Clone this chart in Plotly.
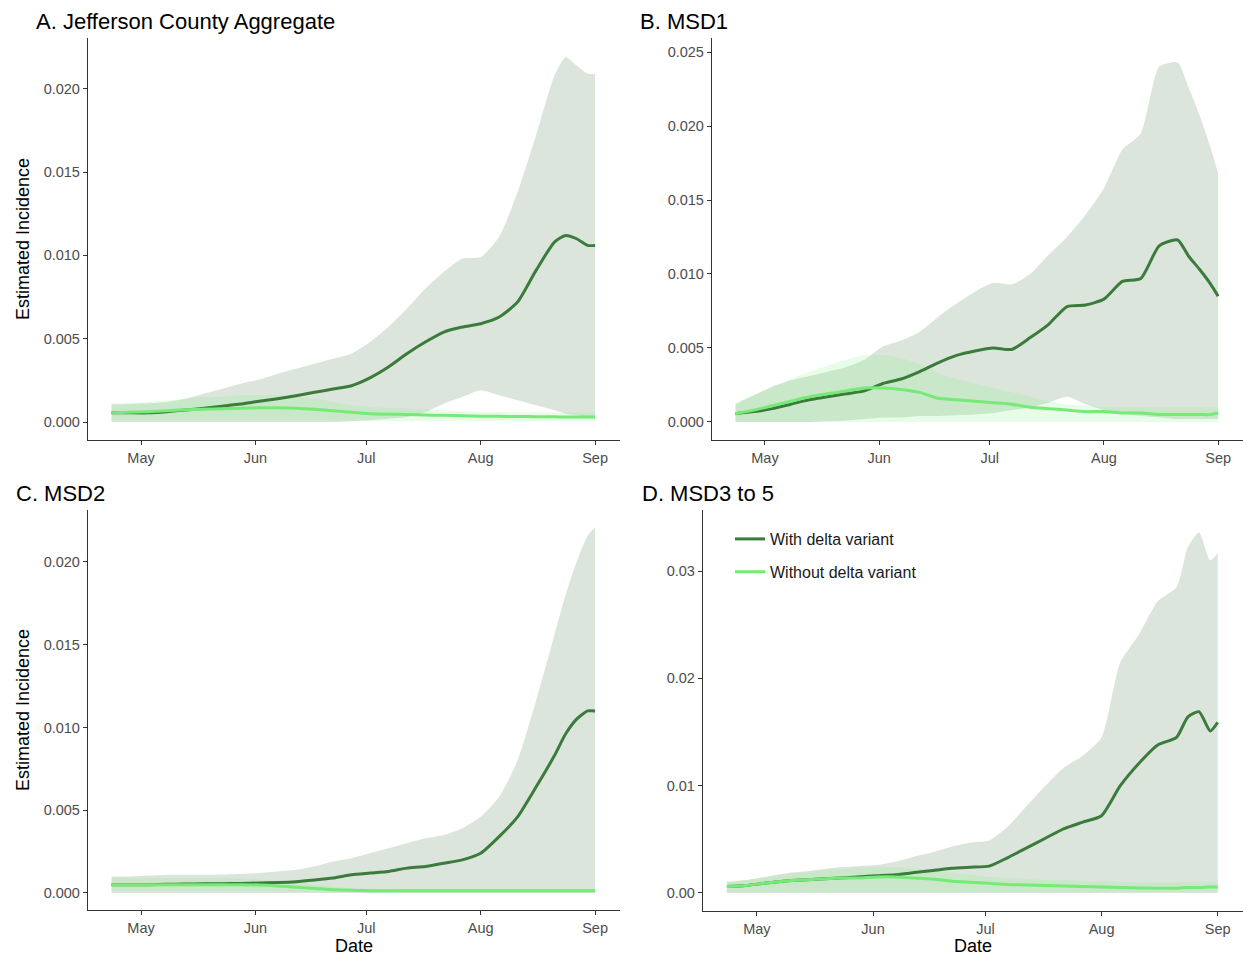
import plotly.graph_objects as go

# ---- shared time axis -------------------------------------------------------
dates = ["2021-04-23", "2021-04-28", "2021-05-03", "2021-05-08", "2021-05-13",
         "2021-05-18", "2021-05-23", "2021-05-28", "2021-06-02", "2021-06-07",
         "2021-06-12", "2021-06-17", "2021-06-22", "2021-06-27", "2021-07-02",
         "2021-07-07", "2021-07-12", "2021-07-17", "2021-07-22", "2021-07-27",
         "2021-08-01", "2021-08-06", "2021-08-11", "2021-08-16", "2021-08-21",
         "2021-08-24", "2021-08-27", "2021-08-30", "2021-09-01"]
month_ticks = ["2021-05-01", "2021-06-01", "2021-07-01", "2021-08-01", "2021-09-01"]
month_labels = ["May", "Jun", "Jul", "Aug", "Sep"]

# ---- A. Jefferson County Aggregate -----------------------------------------
a_with = [0.00056, 0.00055, 0.00055, 0.00062, 0.00072, 0.00082, 0.00095, 0.00108,
          0.00125, 0.00140, 0.00158, 0.00178, 0.00198, 0.00218, 0.00265, 0.0033,
          0.0041, 0.0048, 0.0054, 0.0057, 0.0059, 0.0063, 0.0072, 0.0091, 0.0108,
          0.0112, 0.0110, 0.0106, 0.0106]
a_with_hi = [0.00106, 0.00108, 0.00112, 0.0012, 0.0014, 0.0017, 0.0020, 0.0023,
             0.00255, 0.0029, 0.0032, 0.0035, 0.0038, 0.0041, 0.0048, 0.0057,
             0.0068, 0.0080, 0.0090, 0.0098, 0.0099, 0.0111, 0.0138, 0.0172,
             0.0208, 0.0219, 0.0214, 0.0209, 0.0209]
a_with_lo = [0.0, 0.0, 0.0, 0.0, 0.0, 0.0, 0.0, 0.0, 0.0, 0.0, 0.0, 0.0, 0.0,
             0.00005, 0.0001, 0.0002, 0.0003, 0.0006, 0.0011, 0.0015, 0.0019,
             0.0016, 0.0013, 0.0010, 0.0007, 0.0005, 0.0004, 0.0003, 0.0002]
a_without = [0.00055, 0.00058, 0.00062, 0.00068, 0.00073, 0.00077, 0.0008, 0.00083,
             0.00085, 0.00085, 0.00083, 0.00077, 0.00068, 0.00058, 0.0005, 0.00047,
             0.00045, 0.00042, 0.0004, 0.00037, 0.00035, 0.00034, 0.00033, 0.00032,
             0.00031, 0.0003, 0.0003, 0.0003, 0.0003]
a_without_hi = [0.0011, 0.00115, 0.0012, 0.0013, 0.0014, 0.0015, 0.0015, 0.0016,
                0.0016, 0.0016, 0.0015, 0.0014, 0.0012, 0.0010, 0.0009, 0.00085,
                0.0008, 0.00075, 0.0007, 0.00065, 0.0006, 0.0006, 0.00058, 0.00056,
                0.00055, 0.00055, 0.00055, 0.00055, 0.00055]
a_without_lo = [0.0001, 0.0001, 0.0001, 0.0001, 0.0001, 0.0001, 0.0001, 0.0001,
                0.0001, 0.0001, 0.0001, 0.0001, 0.00008, 0.00007, 0.00006, 0.00005,
                0.00005, 0.00005, 0.00005, 0.00005, 0.00005, 0.00005, 0.00005,
                0.00005, 0.00005, 0.00005, 0.00005, 0.00005, 0.00005]

# ---- B. MSD1 ---------------------------------------------------------------
b_with = [0.00056, 0.0007, 0.0009, 0.0012, 0.0015, 0.0017, 0.0019, 0.0021, 0.0026,
          0.0029, 0.0034, 0.0040, 0.0045, 0.0048, 0.0050, 0.0049, 0.0057, 0.0066,
          0.0078, 0.0079, 0.0083, 0.0095, 0.0097, 0.0119, 0.0123, 0.0112, 0.0103,
          0.0093, 0.0085]
b_with_hi = [0.0012, 0.0018, 0.0024, 0.0028, 0.0031, 0.0034, 0.0037, 0.0042, 0.0051,
             0.0055, 0.0061, 0.0071, 0.0080, 0.0088, 0.0094, 0.0093, 0.0100, 0.0113,
             0.0125, 0.0140, 0.0158, 0.0184, 0.0195, 0.0240, 0.0243, 0.0226, 0.0207,
             0.0185, 0.0168]
b_with_lo = [0.0, 0.0, 0.0, 0.0, 0.0, 0.00005, 0.0001, 0.0002, 0.0003, 0.0003,
             0.0004, 0.0004, 0.00045, 0.0005, 0.0006, 0.0008, 0.0010, 0.0013, 0.0017,
             0.0012, 0.0008, 0.0006, 0.0004, 0.0003, 0.0002, 0.0002, 0.0002, 0.0002,
             0.0002]
b_without = [0.00056, 0.0008, 0.0011, 0.0014, 0.0017, 0.0019, 0.0021, 0.0023, 0.0023,
             0.0022, 0.0020, 0.0016, 0.0015, 0.0014, 0.0013, 0.0012, 0.0010, 0.0009,
             0.0008, 0.0007, 0.0007, 0.0006, 0.0006, 0.0005, 0.0005, 0.0005, 0.0005,
             0.0005, 0.0006]
b_without_hi = [0.0013, 0.0018, 0.0023, 0.0029, 0.0034, 0.0038, 0.0042, 0.0045,
                0.0045, 0.0043, 0.0039, 0.0033, 0.0029, 0.0026, 0.0023, 0.0020,
                0.0017, 0.0014, 0.0012, 0.0011, 0.0010, 0.0010, 0.0010, 0.0010,
                0.0010, 0.0010, 0.0010, 0.0010, 0.0010]
b_without_lo = [0.0] * 29

# ---- C. MSD2 ---------------------------------------------------------------
c_with = [0.0005, 0.0005, 0.0005, 0.00052, 0.00054, 0.00055, 0.00056, 0.00057,
          0.0006, 0.00063, 0.00068, 0.00078, 0.0009, 0.0011, 0.0012, 0.0013, 0.0015,
          0.0016, 0.0018, 0.0020, 0.0024, 0.0034, 0.0046, 0.0064, 0.0083, 0.0096,
          0.0105, 0.0110, 0.0110]
c_with_hi = [0.0010, 0.0010, 0.00105, 0.0011, 0.0011, 0.0011, 0.00112, 0.00115,
             0.0012, 0.0013, 0.0014, 0.0016, 0.0019, 0.0021, 0.0024, 0.0027, 0.0030,
             0.0033, 0.0035, 0.0039, 0.0046, 0.0058, 0.0080, 0.0116, 0.0156, 0.0180,
             0.0200, 0.0216, 0.0221]
c_with_lo = [0.0] * 29
c_without = [0.0005, 0.0005, 0.0005, 0.0005, 0.0005, 0.0005, 0.0005, 0.0005,
             0.00048, 0.00042, 0.00035, 0.00027, 0.0002, 0.00016, 0.00014, 0.00013,
             0.00013, 0.00013, 0.00013, 0.00013, 0.00013, 0.00013, 0.00013, 0.00013,
             0.00013, 0.00013, 0.00013, 0.00013, 0.00013]
c_without_hi = [0.0009, 0.0009, 0.0009, 0.0009, 0.0009, 0.0009, 0.0009, 0.00088,
                0.00082, 0.00072, 0.0006, 0.00048, 0.00038, 0.0003, 0.00026, 0.00024,
                0.00023, 0.00022, 0.00022, 0.00022, 0.00022, 0.00022, 0.00022,
                0.00022, 0.00022, 0.00022, 0.00022, 0.00022, 0.00022]
c_without_lo = [0.0001, 0.0001, 0.0001, 0.0001, 0.0001, 0.0001, 0.0001, 0.0001,
                0.0001, 0.00009, 0.00008, 0.00007, 0.00006, 0.00005, 0.00005, 0.00005,
                0.00005, 0.00005, 0.00005, 0.00005, 0.00005, 0.00005, 0.00005,
                0.00005, 0.00005, 0.00005, 0.00005, 0.00005, 0.00005]

# ---- D. MSD3 to 5 ----------------------------------------------------------
d_with = [0.0006, 0.0007, 0.0009, 0.0011, 0.0012, 0.0013, 0.0014, 0.0015, 0.0016,
          0.0017, 0.0019, 0.0021, 0.0023, 0.0024, 0.0025, 0.0033, 0.0042, 0.0051,
          0.0060, 0.0066, 0.0072, 0.0100, 0.0121, 0.0138, 0.0145, 0.0164, 0.0169,
          0.0151, 0.0159]
d_with_hi = [0.0010, 0.0012, 0.0015, 0.0018, 0.0020, 0.0022, 0.0024, 0.0025, 0.0026,
             0.0029, 0.0034, 0.0038, 0.0043, 0.0047, 0.0049, 0.0062, 0.0081, 0.0100,
             0.0117, 0.0128, 0.0145, 0.0215, 0.0241, 0.0272, 0.0285, 0.0322, 0.0336,
             0.0310, 0.0317]
d_with_lo = [0.0] * 29
d_without = [0.0006, 0.0007, 0.0009, 0.0011, 0.0012, 0.0013, 0.0014, 0.0014, 0.0015,
             0.0015, 0.0014, 0.0013, 0.0011, 0.0010, 0.0009, 0.0008, 0.00075, 0.0007,
             0.00065, 0.0006, 0.00055, 0.0005, 0.00047, 0.00045, 0.00045, 0.0005,
             0.0005, 0.00055, 0.00056]
d_without_hi = [0.0011, 0.0012, 0.0014, 0.0017, 0.0019, 0.0021, 0.0022, 0.0023,
                0.0024, 0.0024, 0.0023, 0.0021, 0.0019, 0.0017, 0.0015, 0.0014,
                0.0013, 0.0012, 0.0012, 0.0011, 0.0011, 0.0010, 0.0010, 0.0010,
                0.0010, 0.0010, 0.0010, 0.0010, 0.0010]
d_without_lo = [0.0001] * 29

panels = [
    dict(key="A", title="A. Jefferson County Aggregate",
         series=(a_with, a_with_lo, a_with_hi, a_without, a_without_lo, a_without_hi),
         yticks=[0.0, 0.005, 0.010, 0.015, 0.020], fmt=".3f", yrange=[-0.00108, 0.02305],
         xdom=[88 / 1243, 620 / 1243], ydom=[1 - 440 / 957, 1 - 38 / 957],
         title_xy=(34, 22), ytitle=True, xtitle=False),
    dict(key="B", title="B. MSD1",
         series=(b_with, b_with_lo, b_with_hi, b_without, b_without_lo, b_without_hi),
         yticks=[0.0, 0.005, 0.010, 0.015, 0.020, 0.025], fmt=".3f",
         yrange=[-0.00122, 0.02595],
         xdom=[712 / 1243, 1.0], ydom=[1 - 440 / 957, 1 - 38 / 957],
         title_xy=(638, 22), ytitle=False, xtitle=False),
    dict(key="C", title="C. MSD2",
         series=(c_with, c_with_lo, c_with_hi, c_without, c_without_lo, c_without_hi),
         yticks=[0.0, 0.005, 0.010, 0.015, 0.020], fmt=".3f", yrange=[-0.00103, 0.02314],
         xdom=[88 / 1243, 620 / 1243], ydom=[1 - 910 / 957, 1 - 510 / 957],
         title_xy=(14, 493), ytitle=True, xtitle=True),
    dict(key="D", title="D. MSD3 to 5",
         series=(d_with, d_with_lo, d_with_hi, d_without, d_without_lo, d_without_hi),
         yticks=[0.0, 0.01, 0.02, 0.03], fmt=".2f", yrange=[-0.00168, 0.0357],
         xdom=[703 / 1243, 1.0], ydom=[1 - 911 / 957, 1 - 510 / 957],
         title_xy=(640, 493), ytitle=False, xtitle=True),
]

DARK_LINE = "#3b7b3b"
LIGHT_LINE = "#76ea76"
DARK_FILL = "rgba(40,100,40,0.17)"
LIGHT_FILL = "rgba(100,240,100,0.15)"
FONT = "Liberation Sans, Arial, sans-serif"
W, H = 1243, 957
TICK_SIZE = 14.5

fig = go.Figure()
layout = dict(
    width=W, height=H, margin=dict(l=0, r=0, t=0, b=0),
    paper_bgcolor="white", plot_bgcolor="white",
    font=dict(family=FONT, size=TICK_SIZE, color="#4d4d4d"),
    annotations=[],
    legend=dict(x=730 / W, y=1 - 522 / H, xanchor="left", yanchor="top",
                bgcolor="rgba(0,0,0,0)", font=dict(size=16, color="#1a1a1a", family=FONT),
                tracegroupgap=9, traceorder="grouped"),
)

for i, p in enumerate(panels):
    n = "" if i == 0 else str(i + 1)
    xa, ya = "x" + n, "y" + n
    w_mid, w_lo, w_hi, o_mid, o_lo, o_hi = p["series"]
    legend_on = p["key"] == "D"

    common = dict(x=dates, xaxis=xa, yaxis=ya, hoverinfo="skip")
    spline = dict(shape="spline", smoothing=0.6)

    # uncertainty band with the delta variant
    fig.add_trace(go.Scatter(y=w_lo, mode="lines", line=dict(width=0, **spline),
                             showlegend=False, **common))
    fig.add_trace(go.Scatter(y=w_hi, mode="lines", line=dict(width=0, **spline),
                             fill="tonexty", fillcolor=DARK_FILL, showlegend=False, **common))
    # uncertainty band without the delta variant
    fig.add_trace(go.Scatter(y=o_lo, mode="lines", line=dict(width=0, **spline),
                             showlegend=False, **common))
    fig.add_trace(go.Scatter(y=o_hi, mode="lines", line=dict(width=0, **spline),
                             fill="tonexty", fillcolor=LIGHT_FILL, showlegend=False, **common))
    # central estimates
    fig.add_trace(go.Scatter(y=w_mid, mode="lines", name="With delta variant",
                             line=dict(color=DARK_LINE, width=3, **spline),
                             legendgroup="with", showlegend=legend_on, **common))
    fig.add_trace(go.Scatter(y=o_mid, mode="lines", name="Without delta variant",
                             line=dict(color=LIGHT_LINE, width=3, **spline),
                             legendgroup="without", showlegend=legend_on, **common))

    layout["xaxis" + n] = dict(
        domain=p["xdom"], anchor=ya, type="date",
        range=["2021-04-16 15:00", "2021-09-07 18:00"],
        tickvals=month_ticks, ticktext=month_labels,
        ticks="outside", ticklen=4, tickwidth=1.1, tickcolor="#333333",
        showline=True, linecolor="#333333", linewidth=1.3,
        showgrid=False, zeroline=False,
        tickfont=dict(size=TICK_SIZE, color="#4d4d4d"),
    )
    layout["yaxis" + n] = dict(
        domain=p["ydom"], anchor=xa, range=p["yrange"],
        tickvals=p["yticks"], tickformat=p["fmt"],
        ticks="outside", ticklen=4, tickwidth=1.1, tickcolor="#333333",
        showline=True, linecolor="#333333", linewidth=1.3,
        showgrid=False, zeroline=False,
        tickfont=dict(size=TICK_SIZE, color="#4d4d4d"),
    )

    tx, ty = p["title_xy"]
    layout["annotations"].append(dict(
        text=p["title"], x=tx / W, y=1 - ty / H, xref="paper", yref="paper",
        xanchor="left", yanchor="middle", showarrow=False,
        font=dict(size=22, color="#000000", family=FONT)))

    if p["ytitle"]:
        ymid = (p["ydom"][0] + p["ydom"][1]) / 2
        layout["annotations"].append(dict(
            text="Estimated Incidence", x=23 / W, y=ymid, xref="paper", yref="paper",
            xanchor="center", yanchor="middle", textangle=-90, showarrow=False,
            font=dict(size=18, color="#000000", family=FONT)))
    if p["xtitle"]:
        xmid = (p["xdom"][0] + p["xdom"][1]) / 2
        layout["annotations"].append(dict(
            text="Date", x=xmid, y=0, xref="paper", yref="paper",
            xanchor="center", yanchor="bottom", showarrow=False, borderpad=0,
            font=dict(size=18, color="#000000", family=FONT)))

fig.update_layout(**layout)
fig.write_html("out.html")
